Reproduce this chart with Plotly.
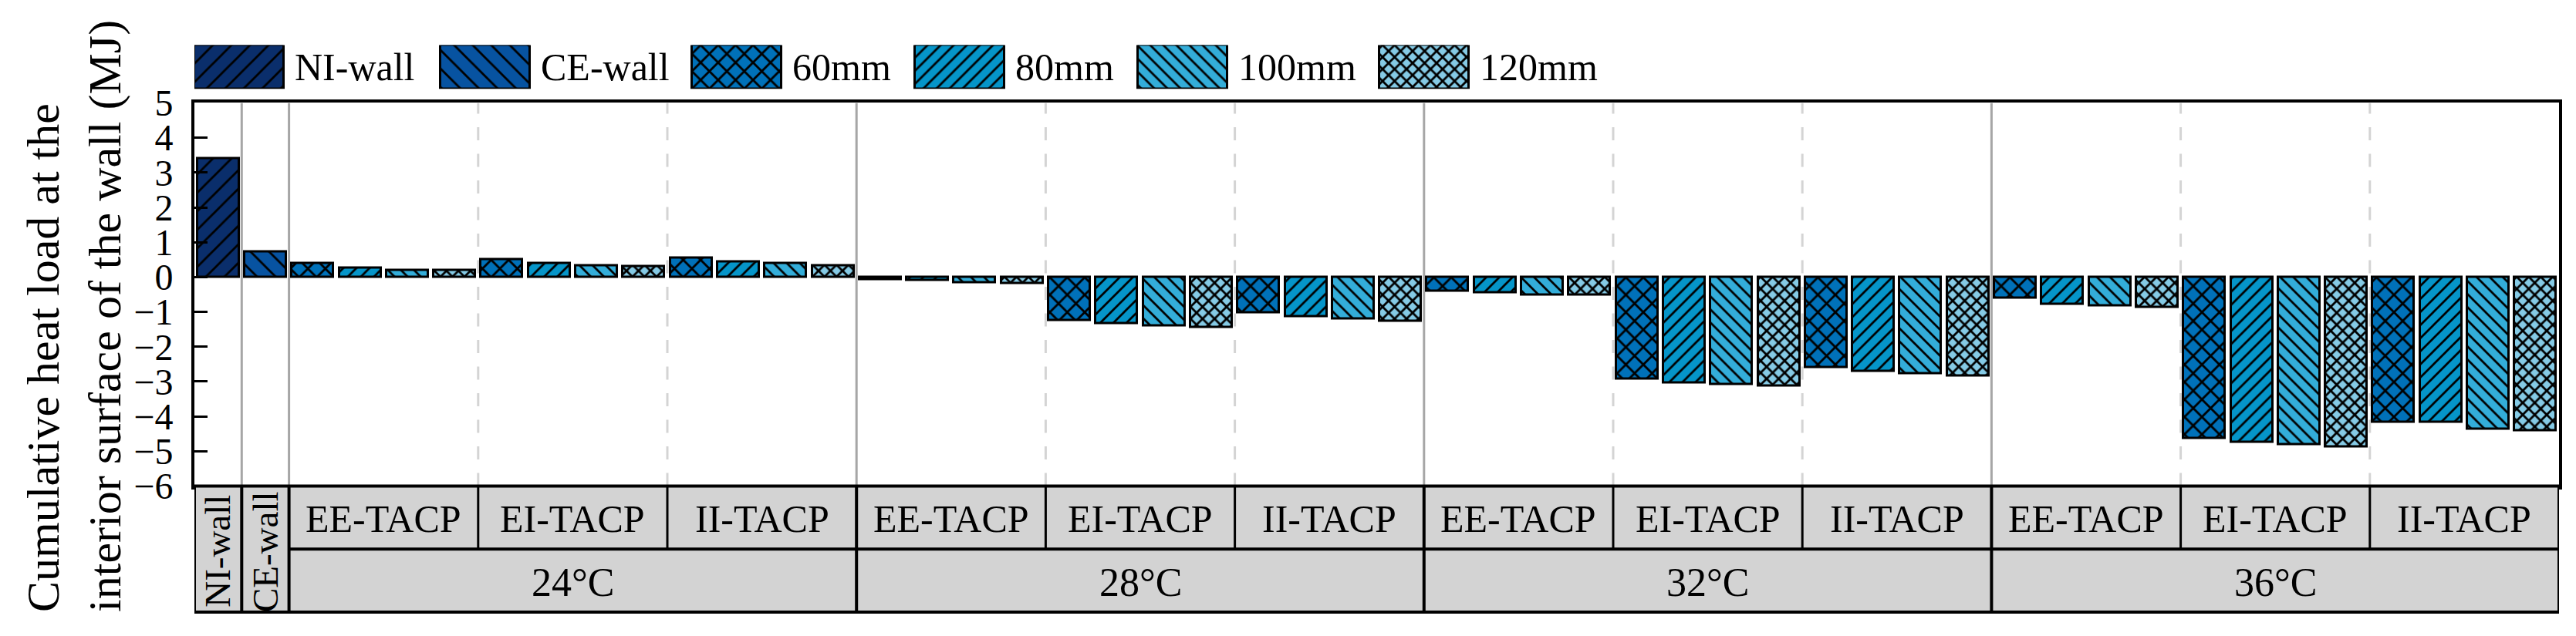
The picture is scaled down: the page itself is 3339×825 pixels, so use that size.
import plotly.graph_objects as go

# ---- data (MJ) ----
temps = ['24°C', '28°C', '32°C', '36°C']
configs = ['EE-TACP', 'EI-TACP', 'II-TACP']
walls = ['NI-wall', 'CE-wall']
thick = ['60mm', '80mm', '100mm', '120mm']

ni_wall = [3.40]
ce_wall = [0.74]
# order: 24 EE, 24 EI, 24 II, 28 EE, ... 36 II
mm60 = [0.40, 0.50, 0.55, -0.07, -1.23, -1.03, -0.40, -2.93, -2.60, -0.60, -4.62, -4.16]
mm80 = [0.26, 0.40, 0.45, -0.09, -1.33, -1.13, -0.44, -3.03, -2.71, -0.77, -4.73, -4.16]
mm100 = [0.19, 0.34, 0.39, -0.15, -1.39, -1.20, -0.50, -3.08, -2.77, -0.83, -4.80, -4.35]
mm120 = [0.19, 0.30, 0.34, -0.18, -1.44, -1.27, -0.52, -3.13, -2.84, -0.86, -4.86, -4.41]

y_title = ['Cumulative heat load at the', 'interior surface of the wall (MJ)']

# ---- styles ----
FONT = 'Liberation Serif, Times New Roman, serif'
colors = {'NI-wall': '#0A2E6B', 'CE-wall': '#0753A1', '60mm': '#0071B9',
          '80mm': '#0595C9', '100mm': '#33ADD9', '120mm': '#85CAE5'}
patterns = {'NI-wall': ('/', 17, 0.165), 'CE-wall': ('\\', 17, 0.165),
            '60mm': ('x', 16, 0.32), '80mm': ('/', 12, 0.23),
            '100mm': ('\\', 12, 0.23), '120mm': ('x', 11, 0.44)}

W, H = 3339, 825
ML, MR, MT, MB = 244, 30, 20, 27
PH = H - MT - MB
PW = W - ML - MR


def py(p):
    # pixel y -> paper y
    return (H - MB - p) / PH


def px(p):
    # pixel x -> paper x
    return (p - ML) / PW


Y_TOP, Y_AX, Y_MID, Y_BOT = 111, 628, 713, 798
BW = 0.88
n_slots = len(walls) + len(temps) * len(configs) * len(thick)


def mk(name):
    shp, size, sol = patterns[name]
    return dict(color=colors[name], line=dict(color='black', width=3),
                pattern=dict(shape=shp, size=size, solidity=sol,
                             fgcolor='black', bgcolor=colors[name], fillmode='replace'))


fig = go.Figure()

fig.add_trace(go.Bar(x=[0], y=ni_wall, width=BW, marker=mk('NI-wall'), name='NI-wall', showlegend=False))
fig.add_trace(go.Bar(x=[1], y=ce_wall, width=BW, marker=mk('CE-wall'), name='CE-wall', showlegend=False))

series = {'60mm': mm60, '80mm': mm80, '100mm': mm100, '120mm': mm120}
for t, name in enumerate(thick):
    xs = [2 + k * len(thick) + t for k in range(len(temps) * len(configs))]
    fig.add_trace(go.Bar(x=xs, y=series[name], width=BW, marker=mk(name), name=name, showlegend=False))

# ---- custom legend (big patterned swatches) ----
leg_names = walls + thick
leg_left = [244, 563, 889, 1178, 1467, 1780]
SW = 116
for nm, lx in zip(leg_names, leg_left):
    fig.add_trace(go.Bar(x=[lx + SW / 2], y=[1], width=SW, marker=mk(nm), xaxis='x2', yaxis='y2',
                         showlegend=False, hoverinfo='skip'))

annotations = []
for nm, lx in zip(leg_names, leg_left):
    annotations.append(dict(x=lx + SW + 12, y=0.5, xref='x2', yref='y2', text=nm, showarrow=False,
                            xanchor='left', yanchor='middle', font=dict(family=FONT, size=50, color='black')))

shapes = []
# separators inside plot area
x_last = n_slots - 0.5
for xv in [0.5, 1.5]:
    shapes.append(dict(type='line', xref='x', yref='y', x0=xv, x1=xv, y0=-6, y1=5, layer='below',
                       line=dict(color='#A6A6A6', width=3)))
for g in range(len(temps)):
    g0 = 1.5 + g * 12
    if g > 0:
        shapes.append(dict(type='line', xref='x', yref='y', x0=g0, x1=g0, y0=-6, y1=5, layer='below',
                           line=dict(color='#A6A6A6', width=3)))
    for s in (1, 2):
        xv = g0 + s * 4
        shapes.append(dict(type='line', xref='x', yref='y', x0=xv, x1=xv, y0=-6, y1=5, layer='below',
                           line=dict(color='#D4D4D4', width=3, dash='17px,17.5px')))

# category table below the axis
shapes.append(dict(type='rect', xref='x', yref='paper', x0=-0.5, x1=x_last, y0=py(Y_BOT), y1=py(Y_AX),
                   fillcolor='#D3D3D3', line=dict(color='black', width=4), layer='above'))
shapes.append(dict(type='line', xref='x', yref='paper', x0=1.5, x1=x_last, y0=py(Y_MID), y1=py(Y_MID),
                   line=dict(color='black', width=4)))
for xv in [0.5, 1.5, 13.5, 25.5, 37.5]:
    shapes.append(dict(type='line', xref='x', yref='paper', x0=xv, x1=xv, y0=py(Y_BOT), y1=py(Y_AX),
                       line=dict(color='black', width=4)))
for g in range(len(temps)):
    for s in (1, 2):
        xv = 1.5 + g * 12 + s * 4
        shapes.append(dict(type='line', xref='x', yref='paper', x0=xv, x1=xv, y0=py(Y_MID), y1=py(Y_AX),
                           line=dict(color='black', width=3)))

# table texts
for i, w in enumerate(walls):
    annotations.append(dict(x=i, y=py((Y_AX + Y_BOT) / 2 + 3), xref='x', yref='paper', text=w, textangle=-90,
                            xanchor='center', yanchor='middle',
                            showarrow=False, font=dict(family=FONT, size=47, color='black')))
for g, tp in enumerate(temps):
    for s, cf in enumerate(configs):
        annotations.append(dict(x=2 + g * 12 + s * 4 + 1.5, y=py((Y_AX + Y_MID) / 2 + 2), xref='x', yref='paper',
                                xanchor='center', yanchor='middle',
                                text=cf, showarrow=False, font=dict(family=FONT, size=50, color='black')))
    annotations.append(dict(x=2 + g * 12 + 5.5, y=py((Y_MID + Y_BOT) / 2 + 2), xref='x', yref='paper',
                            xanchor='center', yanchor='middle',
                            text=tp, showarrow=False, font=dict(family=FONT, size=52, color='black')))

# y title: two rotated lines, both starting at the bottom of the table
for line, cx in zip(y_title, [48, 128]):
    annotations.append(dict(x=px(cx), y=py(Y_BOT + 2), xref='paper', yref='paper',
                            xanchor='center', yanchor='bottom', textangle=-90, showarrow=False,
                            text=line, font=dict(family=FONT, size=60, color='black')))

fig.update_layout(
    width=W, height=H,
    margin=dict(l=ML, r=MR, t=MT, b=MB, pad=0),
    paper_bgcolor='white', plot_bgcolor='white',
    barmode='overlay', bargap=0,
    showlegend=False,
    font=dict(family=FONT, color='black'),
    xaxis=dict(domain=[0, 1], range=[-0.5, x_last], showgrid=False, zeroline=False,
               showticklabels=False, ticks='', showline=True, linecolor='black', linewidth=4, mirror=True),
    yaxis=dict(domain=[py(Y_AX), py(Y_TOP)], range=[-6, 5], dtick=1, tick0=0, showgrid=False, zeroline=False,
               ticks='inside', ticklen=17, tickwidth=3, tickcolor='black',
               ticklabelstandoff=14,
               tickfont=dict(family=FONT, size=48, color='black'),
               showline=True, linecolor='black', linewidth=4, mirror=True),
    xaxis2=dict(domain=[0, 1], range=[ML, W - MR], visible=False, anchor='y2', fixedrange=True),
    yaxis2=dict(domain=[py(92), py(33)], range=[0, 1], visible=False, anchor='x2', fixedrange=True),
    shapes=shapes,
    annotations=annotations,
)

fig.write_html("out.html")
